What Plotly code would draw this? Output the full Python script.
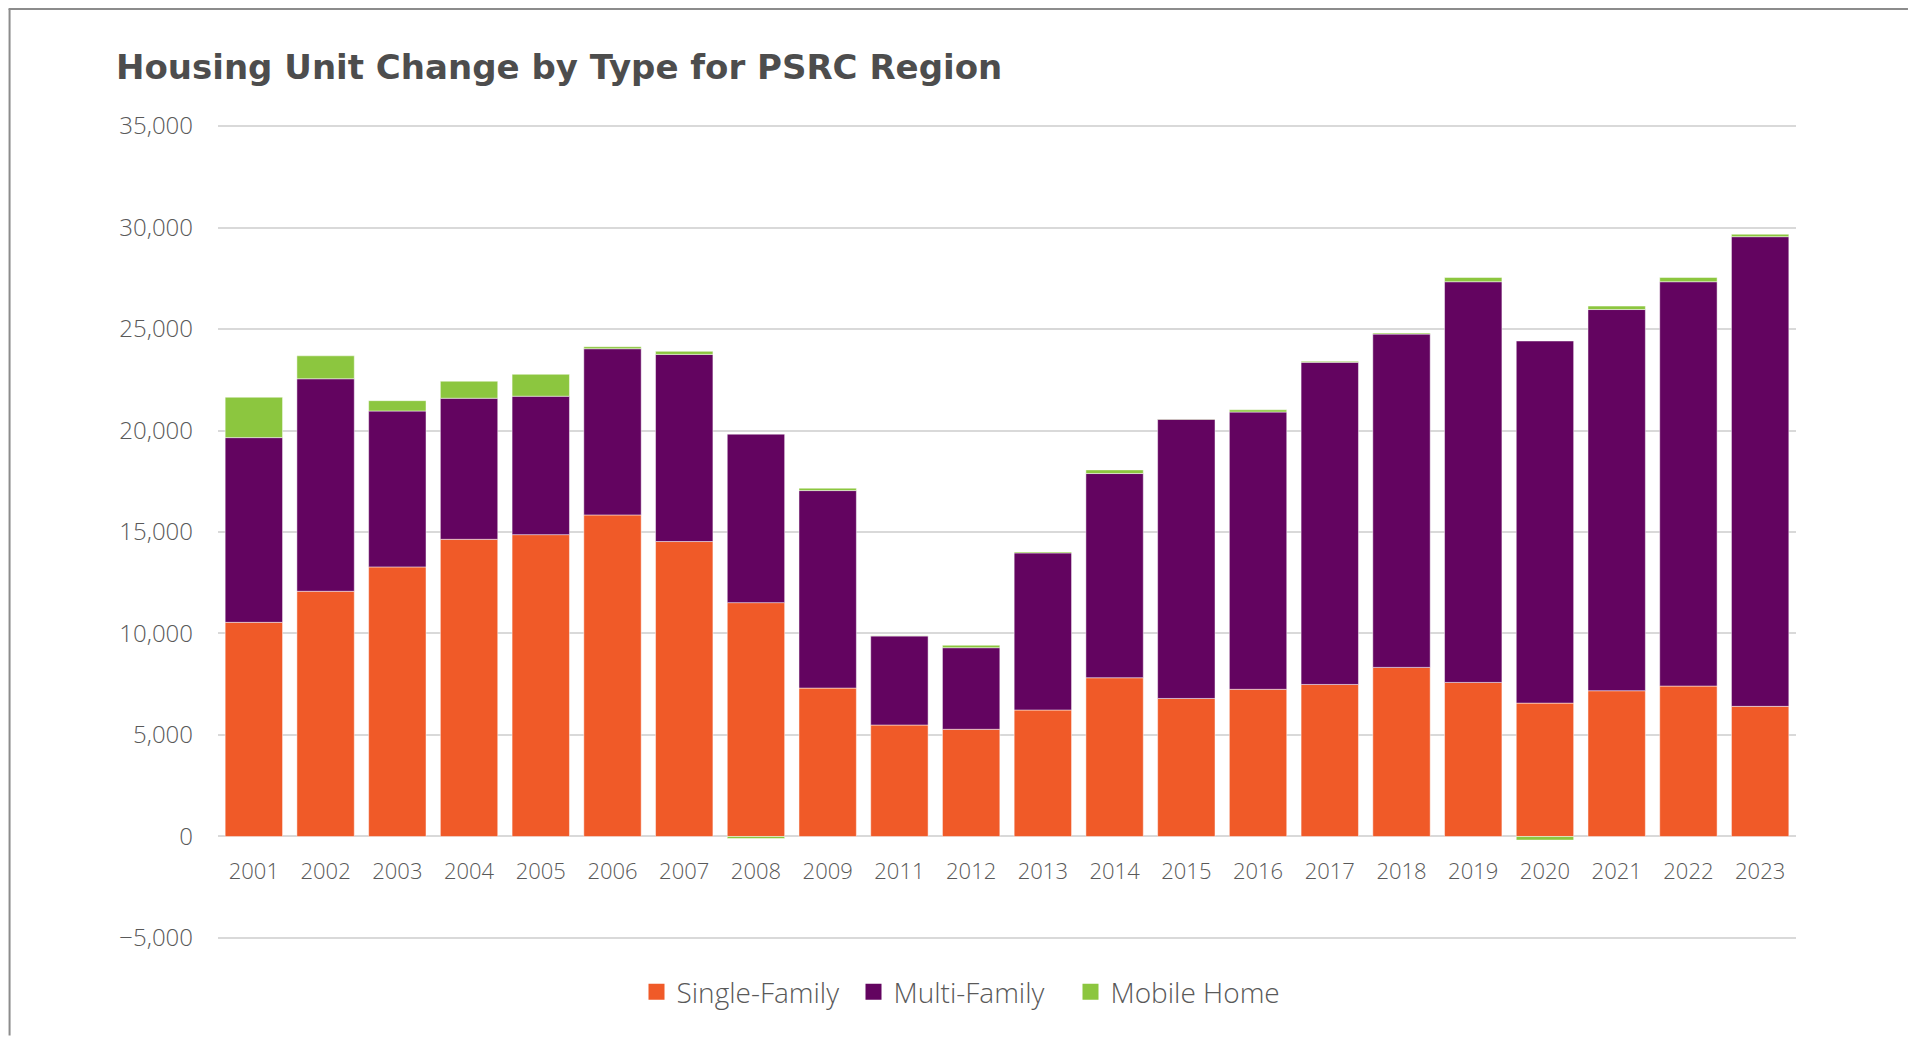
import plotly.graph_objects as go

years = ["2001", "2002", "2003", "2004", "2005", "2006", "2007", "2008", "2009",
         "2011", "2012", "2013", "2014", "2015", "2016", "2017", "2018", "2019",
         "2020", "2021", "2022", "2023"]
single_family = [10550, 12080, 13280, 14640, 14870, 15840, 14530, 11520, 7310,
                 5490, 5280, 6230, 7820, 6800, 7250, 7490, 8330, 7590,
                 6570, 7180, 7410, 6410]
multi_family = [9100, 10470, 7680, 6950, 6820, 8190, 9220, 8300, 9730,
                4390, 4020, 7740, 10060, 13760, 13660, 15870, 16420, 19740,
                17840, 18780, 19920, 23140]
mobile_home = [1990, 1130, 510, 840, 1080, 100, 150, -100, 120,
               10, 120, 50, 180, 10, 110, 50, 50, 210,
               -180, 170, 210, 120]

series_names = ["Single-Family", "Multi-Family", "Mobile Home"]
colors = ["#F05A28", "#630460", "#8CC63F"]

y_ticks = [-5000, 0, 5000, 10000, 15000, 20000, 25000, 30000, 35000]
y_min, y_max = -5150, 35150

FONT = "Open Sans"
TXT = "#595959"

fig = go.Figure()
for name, vals, col in zip(series_names, [single_family, multi_family, mobile_home], colors):
    fig.add_trace(go.Bar(
        x=years, y=vals, name=name, showlegend=False,
        marker=dict(color=col, line=dict(color="rgba(255,255,255,0.6)", width=0.8)),
    ))
# legend entries with larger square swatches
for name, col in zip(series_names, colors):
    fig.add_trace(go.Scatter(
        x=[None], y=[None], mode="markers", name=name,
        marker=dict(symbol="square", size=16, color=col),
    ))

# figure geometry (page has an 8px body margin)
W, H = 1900, 1028
OFF = 8
mL = 217.5 - OFF
mR = 1916 - 1796 - OFF
mT = 126 - OFF - 3
mB = 1044 - 938.5 - OFF - 3
pw = W - mL - mR
ph = H - mT - mB

fig.update_layout(
    width=W, height=H, autosize=False,
    barmode="relative",
    bargap=0.2,
    paper_bgcolor="white",
    plot_bgcolor="white",
    font=dict(family=FONT, color=TXT),
    margin=dict(l=mL, r=mR, t=mT, b=mB, pad=0, autoexpand=False),
    title=dict(
        text="Housing Unit Change by Type for PSRC Region",
        font=dict(family="DejaVu Sans", size=34, color="#4d4d4d", weight="bold"),
        xref="container", yref="container",
        x=(116 - OFF) / W, xanchor="left",
        y=1 - (67 - OFF) / H, yanchor="middle",
    ),
    legend=dict(
        orientation="h",
        xref="container", x=(962 - OFF) / W, xanchor="center",
        yref="container", y=1 - (992 - OFF) / H, yanchor="middle",
        font=dict(family=FONT, size=28, color=TXT, weight=300),
        traceorder="normal",
        itemwidth=30,
        entrywidth=172, entrywidthmode="pixels",
        itemclick=False,
    ),
)

fig.update_yaxes(
    range=[y_min, y_max],
    tickvals=y_ticks,
    tickformat=",",
    showgrid=True, gridcolor="#d9d9d9", gridwidth=1.5,
    zeroline=True, zerolinecolor="#d9d9d9", zerolinewidth=1.5,
    showline=False, ticks="",
    tickfont=dict(family=FONT, size=24, color=TXT, weight=300),
    ticklabelstandoff=24,
)
fig.update_xaxes(
    type="category",
    anchor="free", position=(0 - y_min) / (y_max - y_min),
    showgrid=False, showline=False, ticks="",
    tickfont=dict(family=FONT, size=22, color=TXT, weight=300),
    ticklabelstandoff=20,
)

# thin frame along the top and left of the chart
fig.add_shape(type="line", xref="paper", yref="paper",
              x0=-mL / pw, x1=(W - mL) / pw,
              y0=1 + (mT - 1) / ph, y1=1 + (mT - 1) / ph,
              line=dict(color="#8c8c8c", width=2))
fig.add_shape(type="line", xref="paper", yref="paper",
              x0=(1 - mL) / pw, x1=(1 - mL) / pw,
              y0=1 + (mT - 1) / ph, y1=-mB / ph,
              line=dict(color="#8c8c8c", width=2))

fig.write_html("out.html")
